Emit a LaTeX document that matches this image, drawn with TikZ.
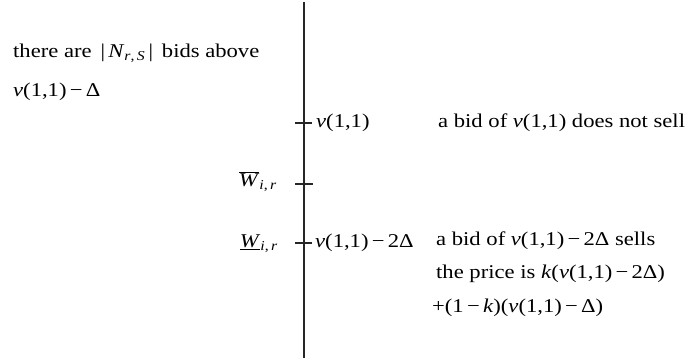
\documentclass[tikz,border=0pt]{standalone}
\usepackage{fontspec}
\setmainfont{Liberation Serif}[FakeStretch=1.16]
\newcommand\iv{\textit{v}}
\newcommand\ik{\textit{k}}
\newcommand\mns{\,\char"2212\,}
\begin{document}
\begin{tikzpicture}[x=1pt,y=-1pt,
  lbl/.style={anchor=west,inner sep=0pt,font=\fontsize{19.5}{22}\selectfont},
  axisline/.style={line width=1.2pt,black!85},
  tickmark/.style={line width=1.2pt,black!85}]
\useasboundingbox (0,0) rectangle (691,360);
\coordinate (top) at (304,2);
\coordinate (bot) at (304,358);
\draw[axisline] (top) -- (bot);
% ticks
\coordinate (t1l) at (295,123); \coordinate (t1r) at (312,123);
\coordinate (t2l) at (295,184); \coordinate (t2r) at (313,184);
\coordinate (t3l) at (295,243); \coordinate (t3r) at (312,243);
\draw[tickmark] (t1l) -- (t1r);
\draw[tickmark] (t2l) -- (t2r);
\draw[tickmark] (t3l) -- (t3r);
% left text
\node[lbl] (nrs) at (13,53) {there are \,|\,\textit{N}\textsubscript{\textit{r},\,\textit{S}}\,|\, bids above};
\node[lbl] (vd) at (13,92) {\iv(1,1)\mns\char"0394};
% tick labels
\node[lbl] (v11) at (316,123) {\iv(1,1)};
\node[lbl,anchor=east] (wbar) at (277,182) {$\overline{\mbox{\textit{W}}}$\textsubscript{\textit{i},\,\textit{r}}};
\node[lbl,anchor=east] (wund) at (278,244) {$\underline{\mbox{\textit{W}}}$\textsubscript{\textit{i},\,\textit{r}}};
\node[lbl] (v2d) at (315,243) {\iv(1,1)\mns2\char"0394};
% right text
\node[lbl] (nosell) at (438,123) {a bid of \iv(1,1) does not sell};
\node[lbl] (sells) at (436,241) {a bid of \iv(1,1)\mns2\char"0394\ sells};
\node[lbl] (price) at (436,274) {the price is \ik(\iv(1,1)\mns2\char"0394)};
\node[lbl] (price2) at (432,308) {+(1\mns\ik)(\iv(1,1)\mns\char"0394)};
\end{tikzpicture}
\end{document}
